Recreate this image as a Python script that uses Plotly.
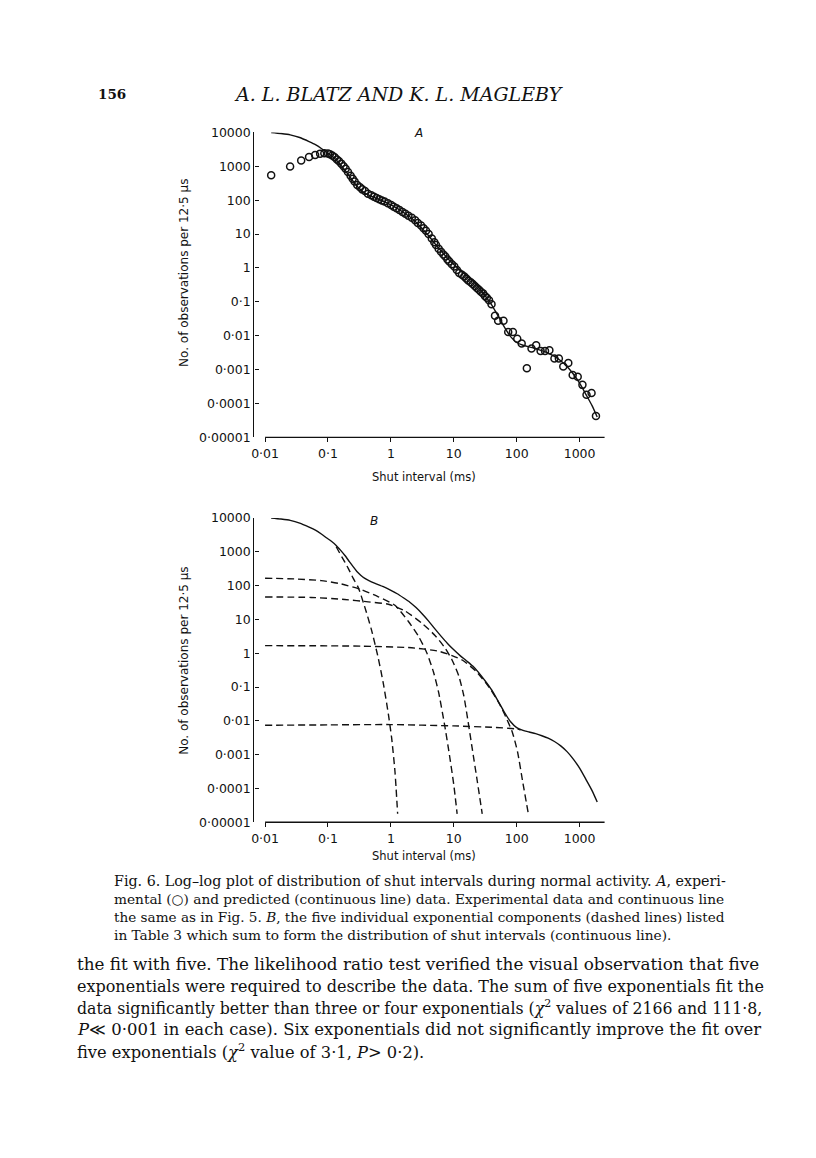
import plotly.graph_objects as go

# page is 816 x 1158; the browser body has an 8 px margin, so the figure is 800 x 1142
PAGE_W, PAGE_H = 816, 1158
M = 8
W, H = PAGE_W - 2 * M, PAGE_H - 2 * M

# ---------------- data ----------------
# Panel A: experimental shut intervals (open circles)
obs_shut_ms = [0.0125, 0.025, 0.0375, 0.05, 0.0625, 0.075, 0.0875, 0.1, 0.107, 0.117,
               0.128, 0.139, 0.150, 0.163, 0.177, 0.191, 0.208, 0.229, 0.247, 0.265,
               0.292, 0.323, 0.351, 0.387, 0.432, 0.488, 0.538, 0.592, 0.653, 0.719,
               0.794, 0.897, 1.01, 1.11, 1.23, 1.37, 1.53, 1.70, 1.90, 2.15,
               2.43, 2.68, 3.02, 3.31, 3.62, 3.98, 4.47, 4.90, 5.22, 5.75,
               6.27, 6.84, 7.35, 7.94, 8.49, 9.33, 10.2, 11.2, 12.2, 13.5,
               14.7, 15.8, 17.0, 18.6, 20.0, 21.6, 23.3, 25.1, 27.0, 29.2,
               31.3, 33.5, 36.3, 39.8, 45.2, 50.7, 61.7, 73.3, 87.1, 102,
               120, 145, 172, 204, 240, 282, 331, 398, 468, 550,
               661, 776, 933, 1109, 1288, 1549, 1820]
obs_count = [547, 989, 1496, 1884, 2163, 2371, 2427, 2399, 2291, 2089,
             1862, 1585, 1413, 1202, 1000, 851, 676, 525, 427, 355,
             282, 240, 209, 186, 155, 141, 126, 117, 107, 97.7,
             91.2, 81.3, 72.4, 64.6, 57.5, 51.3, 44.7, 39.8, 34.7, 30.2,
             25.7, 21.4, 17.8, 14.8, 12.6, 10.0, 7.41, 5.75, 4.79, 3.72,
             3.02, 2.51, 2.19, 1.78, 1.55, 1.29, 1.10, 0.871, 0.708, 0.631,
             0.562, 0.490, 0.427, 0.380, 0.339, 0.295, 0.257, 0.229, 0.200, 0.178,
             0.148, 0.132, 0.112, 0.0851, 0.0389, 0.0275, 0.0275, 0.0129, 0.0129, 0.00813,
             0.00589, 0.0011, 0.00417, 0.00525, 0.00355, 0.00355, 0.00372, 0.00214, 0.00214, 0.00123,
             0.00158, 0.000692, 0.000617, 0.000355, 0.000182, 0.000204, 0.0000427]

# Predicted distribution (continuous line, same in A and B)
fit_shut_ms = [0.0125, 0.0178, 0.0251, 0.0355, 0.0501, 0.0631, 0.0794, 0.0955, 0.112, 0.135,
               0.158, 0.186, 0.219, 0.251, 0.288, 0.331, 0.380, 0.447, 0.562, 0.759,
               1.0, 1.26, 1.58, 2.0, 2.51, 3.16, 3.98, 5.01, 6.31, 7.94,
               10.0, 12.6, 15.8, 20.0, 25.1, 31.6, 39.8, 50.1, 63.1, 79.4,
               100, 126, 158, 200, 251, 316, 398, 501, 631, 794,
               1000, 1259, 1585, 1905]
fit_count = [10000, 9330, 8510, 7080, 5370, 4370, 3310, 2570, 2090, 1550,
             1120, 776, 513, 363, 263, 204, 166, 141, 117, 93.3,
             72.4, 57.5, 43.7, 32.4, 22.4, 14.5, 8.91, 5.25, 3.16, 1.95,
             1.26, 0.851, 0.603, 0.417, 0.263, 0.151, 0.0832, 0.0398, 0.0186, 0.00955,
             0.00631, 0.00525, 0.00468, 0.00417, 0.00363, 0.00309, 0.00245, 0.00182, 0.00123, 0.000741,
             0.000398, 0.000186, 0.0000851, 0.0000398]

# Panel B: the five exponential components (dashed lines)
comp1_ms = [0.135, 0.166, 0.209, 0.251, 0.302, 0.380, 0.490, 0.631, 0.759, 0.912, 1.03, 1.16, 1.28]
comp1_count = [1410, 708, 331, 166, 89.1, 25.1, 5.01, 0.708, 0.126, 0.0158, 0.00302, 0.000324, 0.0000178]

comp2_ms = [0.01, 0.0291, 0.0778, 0.163, 0.340, 0.631, 1.16, 1.90, 2.75, 3.73, 4.78, 5.74, 7.16, 8.51, 9.98, 11.3]
comp2_count = [166, 158, 141, 112, 75.9, 46.8, 26.3, 8.71, 3.16, 1.02, 0.269, 0.0692, 0.00741, 0.001, 0.000132, 0.0000178]

comp3_ms = [0.01, 0.0538, 0.184, 0.435, 0.908, 1.68, 3.10, 5.07, 7.35, 9.38, 12.0, 14.4, 16.9, 19.6, 23.6, 28.3]
comp3_count = [46.2, 44.7, 38.9, 33.1, 28.2, 17.8, 7.76, 3.31, 1.38, 0.631, 0.214, 0.0562, 0.00933, 0.00155, 0.000166, 0.0000178]

comp4_ms = [0.01, 0.340, 2.15, 5.74, 9.38, 13.6, 22.2, 36.2, 52.4, 67.0, 85.7, 103, 124, 153]
comp4_count = [1.68, 1.62, 1.45, 1.15, 0.851, 0.631, 0.302, 0.1, 0.0331, 0.0132, 0.00447, 0.00123, 0.000166, 0.0000178]

comp5_ms = [0.01, 0.1, 1, 10, 39.8, 100, 115]
comp5_count = [0.00741, 0.00759, 0.00776, 0.00708, 0.00646, 0.00575, 0.00537]

# Axis ticks
x_tickvals = [0.01, 0.1, 1, 10, 100, 1000]
x_ticktext = ["0·01", "0·1", "1", "10", "100", "1000"]
y_tickvals = [1e-5, 1e-4, 1e-3, 1e-2, 1e-1, 1, 10, 100, 1000, 10000]
y_ticktext = ["0·00001", "0·0001", "0·001", "0·01", "0·1", "1", "10", "100", "1000", "10000"]

# ---------------- layout helpers (page pixel -> paper) ----------------
def px(x):
    return (x - M) / W


def py(y):
    return 1 - (y - M) / H


INK = "#111111"
SANS = "DejaVu Sans, Arial, sans-serif"
SERIF = "DejaVu Serif, Liberation Serif, serif"

fig = go.Figure()

# Panel A
fig.add_trace(go.Scatter(x=fit_shut_ms, y=fit_count, mode="lines", xaxis="x", yaxis="y",
                         line=dict(color=INK, width=1.4, shape="spline", smoothing=0.6),
                         showlegend=False, hoverinfo="skip"))
fig.add_trace(go.Scatter(x=obs_shut_ms, y=obs_count, mode="markers", xaxis="x", yaxis="y",
                         marker=dict(symbol="circle-open", size=7, color=INK,
                                     line=dict(width=1.5, color=INK)),
                         showlegend=False, cliponaxis=False))

# Panel B
fig.add_trace(go.Scatter(x=fit_shut_ms, y=fit_count, mode="lines", xaxis="x2", yaxis="y2",
                         line=dict(color=INK, width=1.4, shape="spline", smoothing=0.6),
                         showlegend=False, hoverinfo="skip"))
for cx, cy in [(comp1_ms, comp1_count), (comp2_ms, comp2_count), (comp3_ms, comp3_count),
               (comp4_ms, comp4_count), (comp5_ms, comp5_count)]:
    fig.add_trace(go.Scatter(x=cx, y=cy, mode="lines", xaxis="x2", yaxis="y2",
                             line=dict(color=INK, width=1.4, dash="7px,4px",
                                       shape="spline", smoothing=0.6),
                             showlegend=False, hoverinfo="skip"))

x_dom = [px(252.3), px(604)]
xrange = [-2.17, 3.40]


def xaxis(anchor):
    return dict(type="log", range=xrange, domain=x_dom, anchor=anchor,
                tickmode="array", tickvals=x_tickvals, ticktext=x_ticktext,
                ticks="outside", ticklen=4, tickwidth=1.2, tickcolor=INK,
                showline=False, showgrid=False, zeroline=False,
                ticklabelstandoff=1,
                tickfont=dict(family=SANS, size=12.5, color=INK))


def yaxis(anchor, dom):
    return dict(type="log", range=[-5, 4], domain=dom, anchor=anchor,
                tickmode="array", tickvals=y_tickvals, ticktext=y_ticktext,
                ticks="inside", ticklen=4, tickwidth=1.2, tickcolor=INK,
                showline=True, linewidth=1.3, linecolor=INK,
                showgrid=False, zeroline=False,
                tickfont=dict(family=SANS, size=12.5, color=INK))


shapes = []
for xr, yr in [("x", "y"), ("x2", "y2")]:
    shapes.append(dict(type="line", xref=xr, yref=yr + " domain", x0=0.01, x1=10 ** 3.40,
                       y0=0, y1=0, line=dict(color=INK, width=1.3)))

ann = []
PAD = 3  # annotation inner padding on the left


def text(x, y, s, size, family=SERIF, xanchor="left", angle=0):
    xx = x - PAD if xanchor == "left" else x
    ann.append(dict(x=px(xx), y=py(y), xref="paper", yref="paper", text=s, showarrow=False,
                    xanchor=xanchor, yanchor="middle", textangle=angle,
                    font=dict(family=family, size=size, color=INK)))


# Page header
text(96, 87, "<b>156</b>", 13.5)
text(397, 87, "<i>A. L. BLATZ AND K. L. MAGLEBY</i>", 19, xanchor="center")

# Axis titles and panel letters
ytitle = "No. of observations per 12·5 µs"
xtitle = "Shut interval (ms)"
text(181, 268, ytitle, 12, SANS, xanchor="center", angle=-90)
text(182, 661, ytitle, 12, SANS, xanchor="center", angle=-90)
text(423, 475, xtitle, 11.5, SANS, xanchor="center")
text(423, 859, xtitle, 11.5, SANS, xanchor="center")
text(417, 127, "<i>A</i>", 12, SANS, xanchor="center")
text(372, 520, "<i>B</i>", 12, SANS, xanchor="center")

# Caption (justified lines: per-line size nudged so that the right edges align)
cap = [
    "Fig. 6. Log–log plot of distribution of shut intervals during normal activity. <i>A</i>, experi-",
    "mental (○) and predicted (continuous line) data. Experimental data and continuous line",
    "the same as in Fig. 5. <i>B</i>, the five individual exponential components (dashed lines) listed",
    "in Table 3 which sum to form the distribution of shut intervals (continuous line).",
]
cap_sizes = [14.25, 13.7, 13.6, 13.7]
for i, (s, fs) in enumerate(zip(cap, cap_sizes)):
    text(112, 885 + 18 * i, s, fs)

# Body text
body = [
    "the fit with five. The likelihood ratio test verified the visual observation that five",
    "exponentials were required to describe the data. The sum of five exponentials fit the",
    "data significantly better than three or four exponentials (<i>χ</i><sup>2</sup> values of 2166 and 111·8,",
    "<i>P</i>≪ 0·001 in each case). Six exponentials did not significantly improve the fit over",
    "five exponentials (<i>χ</i><sup>2</sup> value of 3·1, <i>P</i>> 0·2).",
]
body_sizes = [16.8, 16.0, 15.75, 16.45, 16.3]
for i, (s, fs) in enumerate(zip(body, body_sizes)):
    text(75, 969 + 22 * i, s, fs)

fig.update_layout(
    width=W, height=H, margin=dict(l=0, r=0, t=0, b=0),
    paper_bgcolor="white", plot_bgcolor="white",
    showlegend=False,
    xaxis=xaxis("y"), yaxis=yaxis("x", [py(435), py(126)]),
    xaxis2=xaxis("y2"), yaxis2=yaxis("x2", [py(825), py(516.7)]),
    shapes=shapes, annotations=ann,
)

fig.write_html("out.html")
